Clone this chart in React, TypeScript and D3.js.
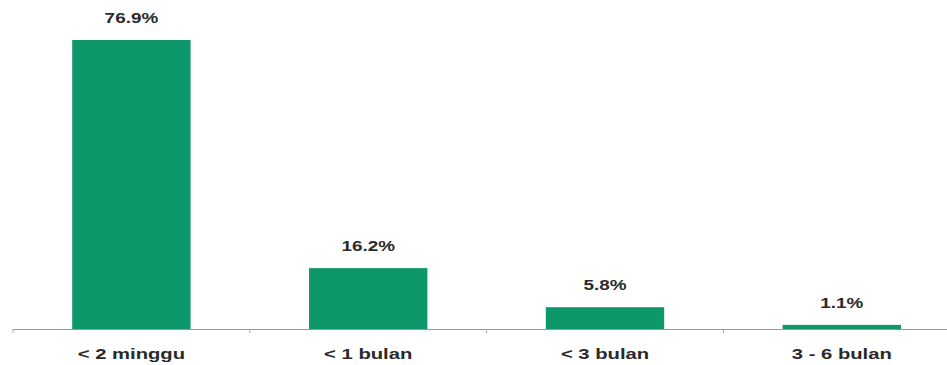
import React from 'react';
import * as d3 from 'd3';

const categories = ['< 2 minggu', '< 1 bulan', '< 3 bulan', '3 - 6 bulan'];
const values = [76.9, 16.2, 5.8, 1.1];
const valueLabels = ['76.9%', '16.2%', '5.8%', '1.1%'];

const W = 947;
const H = 365;

// the source picture is stretched sideways, so text gets the same stretch
const stretch = 1.35;

export default function App() {
  const left = 13;
  const band = 236.8;
  const baseline = 329;

  const x = d3.scaleBand<string>()
    .domain(categories)
    .range([left, left + band * categories.length])
    .paddingInner(0.5)
    .paddingOuter(0.25);

  const y = d3.scaleLinear().domain([0, 76.9]).range([baseline, 40]);

  const ticks = d3.range(categories.length + 1).map((i) => left + i * band);

  const label = (cx: number, cy: number, size: number, txt: string) => (
    <text
      transform={`translate(${cx},${cy}) scale(${stretch},1)`}
      textAnchor="middle"
      fontFamily="Liberation Sans, Arial, sans-serif"
      fontWeight="bold"
      fontSize={size}
      fill="#2a2a2a"
    >
      {txt}
    </text>
  );

  return (
    <svg width={W} height={H} style={{ position: 'absolute', left: 0, top: 0, background: '#fff' }}>
      {categories.map((c, i) => {
        const cx = x(c)! + x.bandwidth() / 2;
        return (
          <g key={c}>
            <rect
              x={x(c)!}
              y={y(values[i])}
              width={x.bandwidth()}
              height={baseline - y(values[i])}
              fill="#0f976c"
            />
            {label(cx, y(values[i]) - 17, 14, valueLabels[i])}
            {label(cx, 359, 15, c)}
          </g>
        );
      })}
      <line x1={left} x2={W} y1={baseline + 0.5} y2={baseline + 0.5} stroke="#999" strokeWidth={1} />
      {ticks.map((t) => (
        <line key={t} x1={t} x2={t} y1={baseline} y2={baseline + 4} stroke="#aaa" strokeWidth={1} />
      ))}
    </svg>
  );
}
